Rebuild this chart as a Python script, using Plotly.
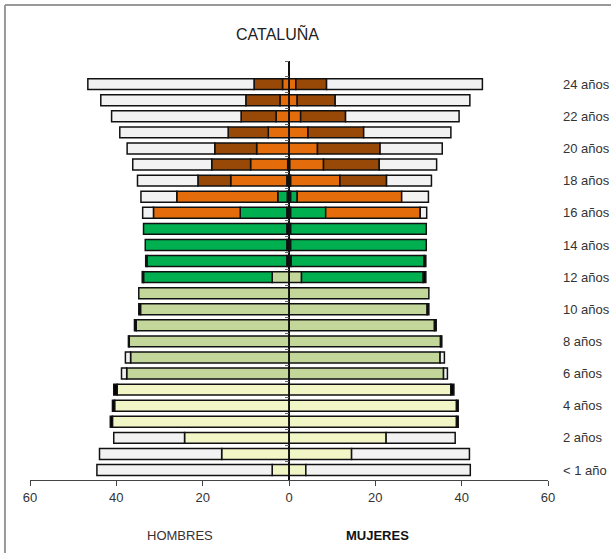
import plotly.graph_objects as go

ages = list(range(25))
age_labels = ["< 1 año", "2 años", "4 años", "6 años", "8 años", "10 años", "12 años",
              "14 años", "16 años", "18 años", "20 años", "22 años", "24 años"]
label_ages = [0, 2, 4, 6, 8, 10, 12, 14, 16, 18, 20, 22, 24]

# Series order = stacking order from the centre outwards (values in %, ages 0..24)
series_names = ["Ed. especial", "Infantil", "Primaria", "ESO", "Bachillerato / FP",
                "Superior", "Otros", "No escolarizado"]
series_colors = ["#000000", "#F2F5C6", "#C4D79B", "#00B050", "#E46C0A",
                 "#984807", "#000000", "#F2F2F2"]

# HOMBRES
h_esp = [0, 0, 0, 0, 0, 0, 0, 0, 0, 0, 0, 0, 0, 0.5, 0.5, 0.5, 0.5, 0.4, 0.5, 0.3, 0, 0, 0, 0, 0]
h_inf = [3.9, 15.6, 24.2, 40.9, 40.4, 39.8, 0, 0, 0, 0, 0, 0, 0, 0, 0, 0, 0, 0, 0, 0, 0, 0, 0, 0, 0]
h_pri = [0, 0, 0, 0, 0, 0, 37.6, 36.7, 37.0, 35.4, 34.4, 34.8, 3.9, 0, 0, 0, 0, 0, 0, 0, 0, 0, 0, 0, 0]
h_eso = [0, 0, 0, 0, 0, 0, 0, 0, 0, 0, 0, 0, 29.8, 32.4, 32.8, 33.2, 10.8, 2.2, 0, 0, 0, 0, 0, 0, 0]
h_sec = [0, 0, 0, 0, 0, 0, 0, 0, 0, 0, 0, 0, 0, 0, 0, 0, 20.1, 23.4, 13.0, 8.6, 7.5, 4.8, 3.0, 2.1, 1.5]
h_sup = [0, 0, 0, 0, 0, 0, 0, 0, 0, 0, 0, 0, 0, 0, 0, 0, 0, 0, 7.6, 9.0, 9.7, 9.3, 8.1, 7.9, 6.6]
h_otr = [0, 0, 0, 0.5, 0.5, 0.8, 0, 0, 0.2, 0.4, 0.4, 0, 0.3, 0.3, 0, 0, 0, 0, 0, 0, 0, 0, 0, 0, 0]
h_no = [40.6, 28.3, 16.4, 0, 0, 0, 1.2, 1.2, 0, 0, 0, 0, 0, 0, 0, 0, 2.5, 8.3, 14.0, 18.3, 20.3, 25.1, 30.0, 33.6, 38.5]

# MUJERES
m_esp = [0, 0, 0, 0, 0, 0, 0, 0, 0, 0, 0, 0, 0, 0.5, 0.4, 0.4, 0.4, 0.4, 0.4, 0.2, 0, 0, 0, 0, 0]
m_inf = [3.9, 14.5, 22.5, 38.8, 38.8, 37.5, 0, 0, 0, 0, 0, 0, 0, 0, 0, 0, 0, 0, 0, 0, 0, 0, 0, 0, 0]
m_pri = [0, 0, 0, 0, 0, 0, 35.8, 35.0, 35.1, 33.7, 32.0, 32.4, 2.9, 0, 0, 0, 0, 0, 0, 0, 0, 0, 0, 0, 0]
m_eso = [0, 0, 0, 0, 0, 0, 0, 0, 0, 0, 0, 0, 28.2, 30.8, 31.4, 31.4, 8.1, 1.5, 0, 0, 0, 0, 0, 0, 0]
m_sec = [0, 0, 0, 0, 0, 0, 0, 0, 0, 0, 0, 0, 0, 0, 0, 0, 21.9, 24.2, 11.4, 7.8, 6.6, 4.4, 2.7, 1.9, 1.6]
m_sup = [0, 0, 0, 0, 0, 0, 0, 0, 0, 0, 0, 0, 0, 0, 0, 0, 0, 0, 10.8, 12.9, 14.5, 12.9, 10.4, 8.8, 7.1]
m_otr = [0, 0, 0, 0.4, 0.4, 0.7, 0, 0, 0.3, 0.4, 0.4, 0, 0.6, 0.4, 0, 0, 0, 0, 0, 0, 0, 0, 0, 0, 0]
m_no = [38.1, 27.3, 16.0, 0, 0, 0, 0.9, 1.0, 0, 0, 0, 0, 0, 0, 0, 0, 1.5, 6.2, 10.4, 13.3, 14.4, 20.2, 26.3, 31.2, 36.1]

x_ticks = [-60, -40, -20, 0, 20, 40, 60]
x_ticktext = ["60", "40", "20", "0", "20", "40", "60"]

hombres = [h_esp, h_inf, h_pri, h_eso, h_sec, h_sup, h_otr, h_no]
mujeres = [m_esp, m_inf, m_pri, m_eso, m_sec, m_sup, m_otr, m_no]

FONT = "Liberation Sans, Arial, sans-serif"
fig = go.Figure()

for name, color, hv, mv in zip(series_names, series_colors, hombres, mujeres):
    fig.add_trace(go.Bar(
        y=ages, x=[-v if v else None for v in hv], orientation="h", width=0.68,
        marker=dict(color=color, line=dict(color="#111111", width=1.5)),
        name=name, showlegend=False))
    fig.add_trace(go.Bar(
        y=ages, x=[v if v else None for v in mv], orientation="h", width=0.68,
        marker=dict(color=color, line=dict(color="#111111", width=1.5)),
        name=name, showlegend=False))

# carrier for the centre axis (draws nothing)
fig.add_trace(go.Scatter(x=[None], y=[None], yaxis="y2", mode="none", showlegend=False))

yr = [-0.62, 25.44]
fig.update_layout(
    width=611, height=553,
    margin=dict(l=30, r=63, t=61, b=73, autoexpand=False),
    paper_bgcolor="white", plot_bgcolor="white",
    barmode="relative",
    font=dict(family=FONT, size=13, color="#333333"),
    xaxis=dict(range=[-60, 60], tickvals=x_ticks, ticktext=x_ticktext, automargin=False,
               showgrid=False, zeroline=True, zerolinecolor="#111111", zerolinewidth=1.5,
               showline=True, linecolor="#444444", linewidth=1.2,
               ticks="outside", ticklen=5, tickcolor="#444444",
               tickfont=dict(size=13, color="#333333")),
    yaxis=dict(range=yr, side="right", tickvals=label_ages, ticktext=age_labels,
               automargin=False,
               showgrid=False, zeroline=False, showline=False, ticks="",
               ticklabelstandoff=14, tickfont=dict(size=13, color="#333333")),
    yaxis2=dict(range=yr, overlaying="y", anchor="free", position=0.5, side="left",
                automargin=False,
                tickvals=[a + 0.5 for a in ages] + [yr[1]], ticks="outside", ticklen=4,
                tickcolor="#666666", tickwidth=1, showticklabels=False,
                showgrid=False, zeroline=False, showline=True,
                linecolor="#111111", linewidth=1.2),
    shapes=[
        dict(type="line", xref="paper", yref="paper", x0=-0.0483, x1=1.1216,
             y0=1.1337, y1=1.1337, line=dict(color="#999999", width=2)),
        dict(type="line", xref="paper", yref="paper", x0=-0.0483, x1=-0.0483,
             y0=1.1337, y1=-0.18, line=dict(color="#999999", width=2)),
    ],
    annotations=[
        dict(text="CATALUÑA", xref="paper", yref="paper", x=0.477, y=1.0668,
             showarrow=False, xanchor="center", yanchor="middle",
             font=dict(size=16, color="#222222", family=FONT)),
        dict(text="HOMBRES", xref="paper", yref="paper", x=0.2896, y=-0.1313,
             showarrow=False, xanchor="center", yanchor="middle",
             font=dict(size=13, color="#3a3030", family=FONT)),
        dict(text="<b>MUJERES</b>", xref="paper", yref="paper", x=0.6699, y=-0.1313,
             showarrow=False, xanchor="center", yanchor="middle",
             font=dict(size=13, color="#111111", family=FONT)),
    ],
)

fig.write_html("out.html", config={"displayModeBar": False},
               post_script="document.body.style.margin='0';document.body.style.overflow='hidden';")
